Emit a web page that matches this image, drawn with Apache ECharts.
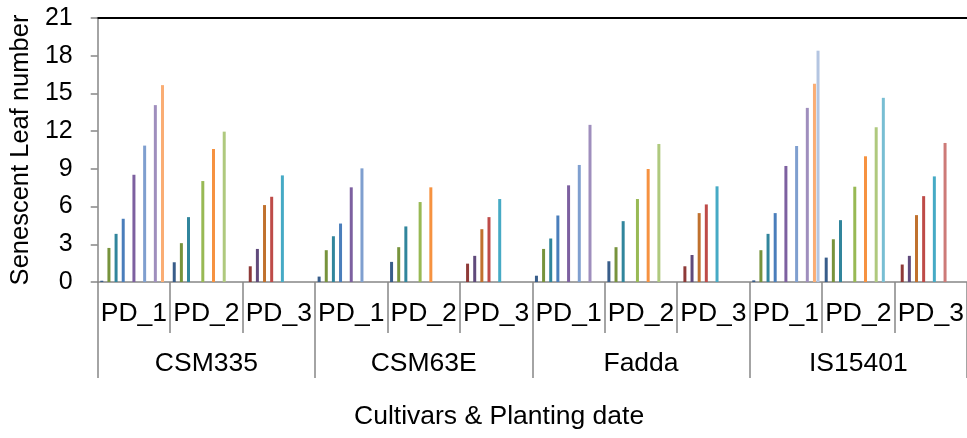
<!DOCTYPE html>
<html>
<head>
<meta charset="utf-8">
<script src="https://cdn.jsdelivr.net/npm/echarts@6/dist/echarts.min.js"></script>
<style>
html,body{margin:0;padding:0;background:#fff;}
#chart{width:967px;height:438px;}
</style>
</head>
<body>
<div id="chart"></div>
<script>
// Categories
const pdLabels = ['PD_1','PD_2','PD_3','PD_1','PD_2','PD_3','PD_1','PD_2','PD_3','PD_1','PD_2','PD_3'];
const cultivars = ['CSM335','CSM63E','Fadda','IS15401'];
const yTickMin = 0, yTickMax = 21, yTickStep = 3;

// Series values (order: CSM335 PD1..PD3, CSM63E PD1..PD3, Fadda PD1..PD3, IS15401 PD1..PD3)
const s01 = [0.1, 1.57, null, 0.43, 1.6, null, 0.5, 1.65, null, 0.13, 1.94, null];
const s02 = [null, null, 1.25, null, null, 1.46, null, null, 1.25, null, null, 1.39];
const s03 = [2.71, 3.09, null, 2.53, 2.77, null, 2.63, 2.77, null, 2.53, 3.4, null];
const s04 = [null, null, 2.63, null, null, 2.08, null, null, 2.15, null, null, 2.08];
const s05 = [3.83, 5.16, null, 3.64, 4.42, null, 3.46, 4.84, null, 3.83, 4.92, null];
const s06 = [null, null, 6.12, null, null, 4.2, null, null, 5.48, null, null, 5.32];
const s07 = [5.03, null, null, 4.65, null, null, 5.29, null, null, 5.48, null, null];
const s08 = [null, null, 6.78, null, null, 5.16, null, null, 6.17, null, null, 6.83];
const s09 = [null, 8.03, null, null, 6.36, null, null, 6.6, null, null, 7.58, null];
const s10 = [8.53, null, null, 7.53, null, null, 7.69, null, null, 9.23, null, null];
const s11 = [null, null, 8.48, null, null, 6.6, null, null, 7.61, null, null, 8.4];
const s12 = [null, 10.58, null, null, 7.53, null, null, 8.99, null, null, 10.0, null];
const s13 = [10.85, null, null, 9.04, null, null, 9.31, null, null, 10.82, null, null];
const s14 = [null, null, null, null, null, null, null, null, null, null, null, 11.06];
const s15 = [null, 11.96, null, null, null, null, null, 10.98, null, null, 12.31, null];
const s16 = [14.07, null, null, null, null, null, 12.5, null, null, 13.85, null, null];
const s17 = [null, null, null, null, null, null, null, null, null, null, 14.65, null];
const s18 = [15.66, null, null, null, null, null, null, null, null, 15.77, null, null];
const s19 = [null, null, null, null, null, null, null, null, null, 18.4, null, null];

const seriesValues = [s01,s02,s03,s04,s05,s06,s07,s08,s09,s10,s11,s12,s13,s14,s15,s16,s17,s18,s19];
const seriesColors = ['#385D8A','#8E3A38','#77933C','#604A7B','#31859C','#C0712E',
  '#4A7EBB','#BE4B48','#98B954','#7D60A0','#46AAC5','#F69240',
  '#7F9FCF','#CD7A78','#AFC97E','#9F8EBD','#78BED3','#FAAD74','#B4C5E1'];

const FONT = 'Liberation Sans, Arial, sans-serif';
const GRAY = '#868686';

const chart = echarts.init(document.getElementById('chart'), null, {renderer:'canvas'});
const option = {
  animation: false,
  backgroundColor: '#fff',
  title: {
    text: 'Cultivars & Planting date',
    left: 349,
    top: 398,
    textStyle: {fontFamily: FONT, fontSize: 26.5, fontWeight: 'normal', color: '#000'}
  },
  grid: {left: 96, top: 18, width: 878, height: 264, containLabel: false},
  xAxis: [
    {
      type: 'category', data: pdLabels, position: 'bottom',
      axisLine: {onZero: false, lineStyle: {color: GRAY, width: 1.5}},
      axisTick: {show: true, interval: 0, length: 51, lineStyle: {color: GRAY, width: 1.5}},
      axisLabel: {interval: 0, margin: 18, fontSize: 26.5, fontFamily: FONT, color: '#000'}
    },
    {
      type: 'category', data: cultivars, position: 'bottom',
      axisLine: {show: false, onZero: false},
      axisTick: {show: true, interval: 0, length: 96, lineStyle: {color: GRAY, width: 1.5}},
      axisLabel: {interval: 0, margin: 68, fontSize: 26.5, fontFamily: FONT, color: '#000'}
    },
    {
      type: 'category', data: pdLabels, position: 'top',
      axisLine: {show: true, onZero: false, lineStyle: {color: '#000', width: 2}},
      axisTick: {show: false}, axisLabel: {show: false}
    }
  ],
  yAxis: {
    type: 'value', min: yTickMin, max: yTickMax, interval: yTickStep,
    axisLine: {show: true, lineStyle: {color: GRAY, width: 1.5}},
    axisTick: {show: true, length: 7, lineStyle: {color: GRAY, width: 1.5}},
    splitLine: {show: false},
    axisLabel: {margin: 25, fontSize: 25, fontFamily: FONT, color: '#000'},
    name: 'Senescent Leaf number', nameLocation: 'middle', nameRotate: 90, nameGap: 62,
    nameTextStyle: {fontSize: 25.5, fontFamily: FONT, color: '#000'}
  },
  series: seriesValues.map((d, i) => ({
    type: 'bar', xAxisIndex: 0, data: d,
    barWidth: 3, barGap: '19%',
    itemStyle: {color: seriesColors[i]}
  }))
};
chart.setOption(option);
</script>
</body>
</html>
